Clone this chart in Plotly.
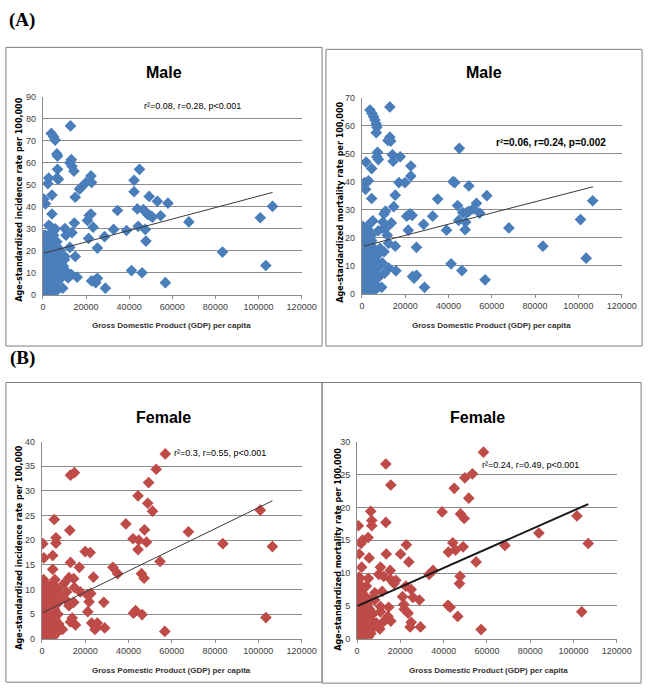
import plotly.graph_objects as go

W, H = 660, 697

# ---------------- data ----------------
# Panel A left: Male incidence
mi_gdp = [12800, 3900, 5000, 5700, 6500, 6800, 6800, 7200, 6500, 2300, 2700, 450, 1200, 4200, 4200,
          2700, 3500, 1200, 1700, 5000, 5700, 6500, 8000, 900, 12500, 13200, 13500, 14400, 15000, 14600,
          13500, 12500, 10200, 10700, 10200, 8000, 15000, 15900, 13200, 11700, 9200, 17000, 17700, 20000,
          22300, 22600, 20700, 21500, 22300, 21200, 23300, 25300, 22600, 24200, 25300, 24500, 29000, 28600,
          32800, 34600, 38800, 41100, 42300, 42300, 44800, 43800, 44200, 46000, 46600, 47800, 48600, 49800,
          47500, 47800, 49300, 50800, 53100, 54600, 58000, 56800, 67700, 83300, 100800, 103400, 106500,
          300, 500, 700, 900, 1100, 1300, 1500, 1700, 1900, 2100, 2300, 2500, 2700, 2900, 3100, 3300, 3500,
          3700, 3900, 4100, 4300, 4500, 4700, 4900, 5100, 5300, 5500, 5800, 6100, 6400, 6700, 7000, 7400,
          7800, 8200, 8600, 9000, 9500, 10000, 10500, 11000, 400, 600, 800, 1000, 1200, 1400, 1600, 2000,
          2400, 2800, 3200, 3600, 4000, 4400, 5000, 5600, 200, 400, 600, 1000, 1800, 2600, 3400, 4200, 5200,
          6000, 200, 300, 500, 700, 900, 1500, 2200, 3000, 3800, 4600]
mi_rate = [76.7, 73.3, 71.8, 70.3, 64.0, 63.0, 57.0, 52.5, 53.0, 50.5, 53.0, 43.5, 41.3, 45.3, 36.7,
           31.6, 31.0, 27.0, 26.0, 27.0, 30.0, 24.1, 20.4, 21.0, 60.0, 61.4, 58.4, 56.2, 44.3, 32.6,
           28.2, 21.5, 30.1, 27.1, 17.4, 16.0, 17.4, 8.0, 9.2, 7.7, 3.0, 48.0, 48.7, 51.0,
           54.0, 51.0, 33.8, 36.0, 36.7, 25.6, 30.7, 21.2, 6.3, 6.6, 7.5, 5.5, 3.0, 26.4,
           29.7, 38.3, 29.2, 11.0, 52.0, 46.8, 57.0, 39.0, 31.1, 10.0, 38.7, 37.5, 36.5, 36.0,
           29.7, 24.4, 44.7, 35.3, 42.5, 35.9, 41.6, 5.5, 33.1, 19.4, 35.0, 13.3, 40.2,
           1, 3, 5, 2, 8, 12, 4, 10, 6, 14, 3, 9, 16, 1, 11, 7, 13,
           2, 18, 5, 10, 22, 4, 15, 8, 1, 12, 19, 6, 14, 3, 10, 17,
           7, 12, 16, 9, 13, 16, 11, 9, 10, 15, 18, 25, 7, 20, 13, 24,
           19, 26, 21, 28, 15, 25, 29, 17, 6, 13, 0.5, 0.8, 1.5, 4, 0.7, 2.5, 5,
           1.5, 16, 22, 27, 11, 14, 17, 11, 13, 8, 12]
mi_trend_x = [450, 106500]
mi_trend_y = [18.9, 46.5]

# Panel A right: Male mortality
mm_gdp = [12900, 3700, 4600, 5400, 6000, 6600, 6900, 6600, 7200, 6900, 7600, 1900, 4500, 1200, 3000,
          1650, 4500, 12000, 12900, 13300, 14100, 14400, 14700, 15400, 17700, 17100, 19900, 13600, 12300,
          15400, 15700, 20700, 22200, 23200, 22600, 22600, 21400, 25200, 23400, 25200, 24100, 28900, 28500,
          32700, 35000, 39100, 41200, 42100, 42900, 44200, 45000, 44700, 46200, 46600, 47900, 47700, 48400,
          49400, 49400, 51400, 52900, 54400, 57700, 56900, 67900, 83600, 101000, 103600, 106600,
          11700, 10900, 9900, 10200, 10900, 9700, 8400, 10200, 9400, 10500, 9100, 12400, 7600,
          300, 500, 700, 900, 1100, 1300, 1500, 1700, 1900, 2100, 2300, 2500, 2700, 2900, 3100, 3300, 3500,
          3700, 3900, 4100, 4300, 4500, 4700, 4900, 5100, 5300, 5500, 5800, 6100, 6400, 6700, 7000, 7400,
          7800, 8200, 400, 600, 800, 1000, 1200, 1400, 1600, 2000, 2400, 2800, 3200, 3600, 4000, 4400,
          5000, 5600, 200, 400, 600, 1000, 1800, 2600, 3400, 4200, 5200, 6000, 200, 300, 500, 700, 900,
          1500, 2200, 3000, 3800, 4600]
mm_rate = [66.7, 65.6, 64.4, 63.2, 62.0, 60.6, 59.4, 57.5, 50.5, 48.9, 47.9, 47.0, 44.7, 39.7, 40.3,
           37.3, 34.0, 54.7, 55.9, 54.5, 49.6, 47.3, 31.1, 35.2, 48.9, 39.7, 39.7, 25.3, 18.0,
           17.0, 8.2, 27.7, 28.5, 28.0, 42.0, 45.6, 22.7, 16.6, 6.2, 6.6, 5.6, 2.3, 24.8,
           27.7, 33.8, 22.7, 10.7, 40.0, 39.7, 31.5, 51.9, 26.2, 8.3, 29.0, 25.6, 22.9, 29.0,
           29.4, 38.5, 30.3, 32.3, 28.8, 35.0, 5.0, 23.5, 17.0, 26.5, 12.7, 33.2,
           20.9, 23.3, 23.3, 28.5, 29.5, 25.6, 16.2, 15.0, 11.0, 7.4, 2.3, 9.2, 22.5,
           1, 3, 5, 2, 7, 10, 4, 9, 5, 12, 3, 8, 14, 1, 10, 6, 12,
           2, 15, 4, 9, 19, 3, 13, 7, 1, 10, 16, 5, 12, 3, 9, 14,
           6, 10, 8, 13, 15, 22, 6, 18, 11, 20, 16, 23, 18, 25, 13, 21,
           26, 15, 5, 11, 0.5, 0.8, 1.5, 3.5, 0.7, 2.2, 4.5, 1.3, 13, 19, 24, 9,
           12, 14, 9, 11, 7, 10]
mm_trend_x = [750, 106800]
mm_trend_y = [17.0, 38.2]

# Panel B left: Female incidence
fi_gdp = [57000, 13200, 15000, 52800, 49300, 44400, 48900, 51100, 38800, 47400, 42100, 44800, 48300,
          44400, 67700, 83600, 100900, 106500, 103500, 56800, 54600, 46000, 47200, 32800, 35000, 42300,
          43300, 46300, 450, 900, 2400, 5700, 6500, 6500, 5000, 5000, 12900, 13200, 12500, 14700, 15000,
          14700, 17300, 20000, 22300, 23800, 17700, 21000, 21200, 22600, 21800, 23000, 24800, 24500, 25600,
          28600, 29000, 15500, 13200, 14000, 11000, 10200, 11400, 9500, 8400, 7500, 6500, 7200, 12500,
          300, 500, 700, 900, 1100, 1300, 1500, 1700, 1900, 2100, 2300, 2500, 2700, 2900, 3100, 3300, 3500,
          3700, 3900, 4100, 4300, 4500, 4700, 4900, 5100, 5300, 5500, 5800, 6100, 6400, 6700, 7000, 7400,
          7800, 8200, 400, 600, 800, 1000, 1200, 1400, 1600, 2000, 2400, 2800, 3200, 3600, 4000, 4400,
          5000, 5600, 200, 400, 600, 1000, 1800, 2600, 3400, 4200, 5200, 6000, 200, 300, 500, 700, 900,
          1500, 2200, 3000, 3800, 4600, 9000, 10000, 8000]
fi_rate = [37.5, 33.2, 33.7, 34.4, 31.7, 29.0, 27.5, 25.9, 23.3, 22.1, 20.3, 20.0, 19.6,
           18.1, 21.7, 19.3, 26.1, 18.7, 4.3, 1.5, 15.7, 13.2, 12.3, 14.5, 13.2, 5.2,
           5.7, 4.9, 19.3, 16.4, 8.9, 24.2, 20.5, 19.4, 16.9, 14.1, 22.0, 15.5, 12.4, 12.2, 10.4,
           7.4, 14.5, 17.7, 17.5, 12.5, 9.5, 8.9, 5.5, 9.2, 7.5, 3.2, 2.5, 1.9, 3.2,
           7.4, 2.2, 2.8, 3.4, 4.2, 7.9, 11.2, 9.5, 1.9, 2.0, 7.3, 9.2, 10.2, 6.7,
           0.5, 2, 4, 1, 6, 3, 8, 0.3, 5, 2, 10, 4, 7, 1, 3, 6, 0.5,
           9, 2, 4, 11, 1, 5, 3, 7, 0.4, 2, 6, 4, 1, 8, 2, 5,
           3, 9, 7, 10, 12, 1.5, 6, 4, 7, 11, 3, 9, 5, 2, 8,
           6, 3, 1, 5, 0.2, 1.2, 3, 0.8, 1.5, 2.5, 10.5, 7, 12, 4, 2,
           9.5, 5, 6.5, 1.2, 8, 5.5, 6, 1.8]
fi_trend_x = [450, 106500]
fi_trend_y = [5.3, 28.0]

# Panel B right: Female mortality
fm_gdp = [58400, 13300, 15600, 53300, 49800, 44900, 51600, 39300, 47800, 49500, 13300, 20100, 22800,
          23900, 13500, 42200, 44200, 45500, 49000, 55000, 47600, 47300, 46500, 42000, 43000, 57300, 68300,
          84000, 101600, 103800, 106800, 33300, 35100, 28800, 29300, 25000, 25800, 23600, 25000, 24500,
          22500, 21600, 21000, 21800, 17900, 17100, 15600, 15300, 14600, 14300, 15600, 13400, 12300, 10800,
          10000, 11600, 10800, 10800, 10500, 11600, 9000, 8100, 600, 1000, 1800, 2500, 1000, 2100, 5100,
          5600, 6300, 6800, 6800,
          300, 500, 700, 900, 1100, 1300, 1500, 1700, 1900, 2100, 2300, 2500, 2700, 2900, 3100, 3300, 3500,
          3700, 3900, 4100, 4300, 4500, 4700, 4900, 5100, 5300, 5500, 5800, 6100, 6400, 6700, 7000, 7400,
          7800, 8200, 400, 600, 800, 1000, 1200, 1400, 1600, 2000, 2400, 2800, 3200, 3600, 4000, 4400,
          5000, 5600, 200, 400, 600, 1000, 1800, 2600, 3400, 4200, 5200, 6000, 200, 300, 500, 700, 900,
          1500, 2200, 3000, 3800, 4600]
fm_rate = [28.4, 26.6, 23.4, 25.1, 24.5, 22.9, 21.4, 19.3, 19.0, 18.3, 17.7, 12.9, 14.3,
           11.7, 12.9, 13.2, 14.6, 13.5, 14.0, 11.7, 9.5, 8.4, 3.4, 5.1, 4.8, 1.4, 14.2,
           16.1, 18.7, 4.1, 14.5, 9.8, 10.4, 5.9, 1.8, 7.5, 6.3, 3.9, 2.5, 1.8,
           8.0, 5.2, 6.4, 4.5, 8.9, 8.4, 9.0, 10.4, 4.8, 3.4, 2.7, 3.0, 9.5, 10.9,
           9.8, 7.2, 4.9, 4.1, 1.5, 2.4, 2.4, 5.9, 17.2, 12.9, 14.5, 15.0, 9.4, 10.9, 15.4,
           12.3, 19.4, 18.0, 17.2,
           0.4, 1.5, 3, 0.8, 4.5, 2.2, 6, 0.3, 3.5, 1.5, 7.5, 3, 5, 0.8, 2.5, 4.5, 0.4,
           6.5, 1.5, 3, 8, 0.8, 4, 2.2, 5.5, 0.3, 1.5, 4.5, 3, 0.8, 6, 1.5, 3.8,
           2.2, 7, 5.5, 7.5, 9, 1.2, 4.5, 3, 5.5, 8, 2.2, 6.5, 3.8, 1.5, 6,
           4.5, 2.2, 0.8, 3.8, 0.2, 0.9, 2.2, 0.6, 1.1, 1.9, 6.3, 9.2, 3, 5,
           7, 4, 5, 1, 6]
fm_trend_x = [300, 106800]
fm_trend_y = [5.0, 20.5]

x_ticks = [0, 20000, 40000, 60000, 80000, 100000, 120000]

# ---------------- layout helpers ----------------
def px_x(p):
    return p / W

def px_y(p):
    return 1 - p / H

BLUE = "#4A7EBB"
RED = "#BE4B48"
GRID = "#8C8C8C"
TXT = "#404040"
NARROW = "Liberation Sans Narrow, Liberation Sans, Arial"

panels = [
    ("x", "y", (41, 307, 93, 294), 90, 10, mi_gdp, mi_rate, mi_trend_x, mi_trend_y, BLUE, 1),
    ("x2", "y2", (369, 636, 94, 293), 70, 10, mm_gdp, mm_rate, mm_trend_x, mm_trend_y, BLUE, 1),
    ("x3", "y3", (40, 307, 443, 643), 40, 5, fi_gdp, fi_rate, fi_trend_x, fi_trend_y, RED, 1),
    ("x4", "y4", (364, 631, 443, 643), 30, 5, fm_gdp, fm_rate, fm_trend_x, fm_trend_y, RED, 2),
]

fig = go.Figure()
layout = dict(
    width=W, height=H, margin=dict(l=0, r=0, t=0, b=0),
    paper_bgcolor="white", plot_bgcolor="white", showlegend=False,
)

for i, (xa, ya, (l, r, t, b), ymax, dt, gx, gy, tx, ty, col, lw) in enumerate(panels):
    fig.add_trace(go.Scatter(
        x=gx, y=gy, mode="markers", xaxis=xa, yaxis=ya,
        marker=dict(symbol="diamond", size=9, color=col, line=dict(width=0)),
        hoverinfo="skip"))
    fig.add_trace(go.Scatter(
        x=tx, y=ty, mode="lines", xaxis=xa, yaxis=ya,
        line=dict(color="#1a1a1a" if lw > 1 else "#3a3a3a", width=lw),
        hoverinfo="skip"))
    suf = "" if i == 0 else str(i + 1)
    layout["xaxis" + suf] = dict(
        domain=[px_x(l), px_x(r)], range=[0, 120000], tickvals=x_ticks, tickformat="d",
        showgrid=False, showline=True, linecolor=GRID, linewidth=1,
        ticks="outside", ticklen=3, tickcolor=GRID, zeroline=False,
        tickfont=dict(family=NARROW, size=9, color=TXT),
        anchor=ya, fixedrange=True)
    layout["yaxis" + suf] = dict(
        domain=[px_y(b), px_y(t)], range=[0, ymax], dtick=dt,
        showgrid=True, gridcolor=GRID, gridwidth=1, showline=True, linecolor=GRID,
        linewidth=1, ticks="", zeroline=False, ticklabelstandoff=4,
        tickfont=dict(family=NARROW, size=9, color=TXT),
        anchor=xa, fixedrange=True)

fig.update_layout(**layout)

# ---------------- frames ----------------
boxes = [(3, 328, 43, 346), (332, 657, 45, 346), (3, 328, 383, 687), (328, 656, 383, 688)]
for (l, r, t, b) in boxes:
    fig.add_shape(type="rect", xref="paper", yref="paper",
                  x0=px_x(l), x1=px_x(r), y0=px_y(b), y1=px_y(t),
                  line=dict(color="#7F7F7F", width=1), layer="below")

# ---------------- text ----------------
def ann(text, x, y, size, family="Liberation Sans", color="black", angle=0, bg=None):
    fig.add_annotation(text=text, xref="paper", yref="paper", x=px_x(x), y=px_y(y),
                       xanchor="center", yanchor="middle", showarrow=False, textangle=angle,
                       font=dict(family=family, size=size, color=color),
                       bgcolor=bg)

ann("<b>(A)</b>", 20, 15, 19, family="Liberation Serif")
ann("<b>(B)</b>", 20, 358, 19, family="Liberation Serif")

titles = [("Male", 165, 68), ("Male", 494, 68), ("Female", 165, 418), ("Female", 488, 418)]
for t, x, y in titles:
    ann("<b>" + t + "</b>", x, y, 16, family=NARROW)

ytitles = [("Age-standardized incidence rate per 100,000", 17, 198),
           ("Age-stardardized mortality rate per 100,000", 347, 200),
           ("Age-standardized incidence rate per 100,000", 17, 551),
           ("Age-standardized mortality rate per 100,000", 344, 552)]
for t, x, y in ytitles:
    ann("<b>" + t + "</b>", x, y, 8, family="DejaVu Sans", angle=-90)

xtitles = [("Gross Domestic Product (GDP) per capita", 173, 325),
           ("Gross Domestic Product (GDP) per capita", 502, 325),
           ("Gross Pomestic Product (GDP) per capita", 173, 675),
           ("Gross Domestic Product (GDP) per capita", 499, 675)]
for t, x, y in xtitles:
    ann("<b>" + t + "</b>", x, y, 8, family=NARROW, color="#333333")

ann("r\u00b2=0.08, r=0.28, p&lt;0.001", 195, 102, 9, family=NARROW)
ann("<b>r\u00b2=0.06, r=0.24, p=0.002</b>", 563, 140, 10, family=NARROW, bg="white")
ann("r\u00b2=0.3, r=0.55, p&lt;0.001", 223, 455, 9, family=NARROW)
ann("r\u00b2=0.24, r=0.49, p&lt;0.001", 542, 467, 9, family=NARROW)

fig.write_html("out.html", config={"displayModeBar": False},
               post_script="document.body.style.margin='0';")
